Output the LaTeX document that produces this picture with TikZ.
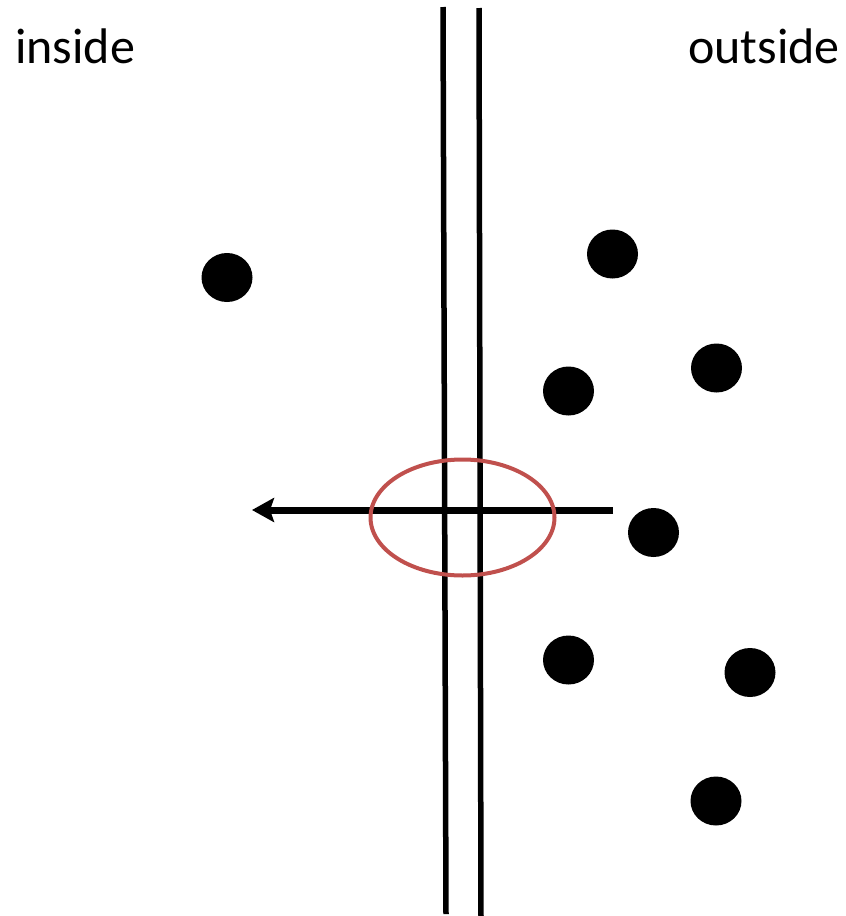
\documentclass[tikz,border=0pt]{standalone}
\usepackage{fontspec}
\setmainfont{Carlito}
\usetikzlibrary{arrows.meta}
\definecolor{ringred}{RGB}{192,80,77}
\tikzset{
  particle/.style={fill=black, draw=none},
  wall/.style={line width=5.5pt, black},
  label/.style={font=\fontsize{50pt}{60pt}\selectfont, inner sep=0pt},
  flow/.style={line width=7pt, -{Stealth[length=22pt,width=24pt,inset=4pt]}},
  channel/.style={draw=ringred, line width=4pt}
}
\begin{document}
\begin{tikzpicture}[x=1pt,y=-1pt]
\useasboundingbox (0,0) rectangle (846,916);
% labels
\node[label, anchor=base west] (inside) at (15,63) {inside};
\node[label, anchor=base east] (outside) at (840,63) {outside};
% membrane walls
\coordinate (w1t) at (443,7);
\coordinate (w1b) at (446,914);
\coordinate (w2t) at (479,8);
\coordinate (w2b) at (481,918);
\draw[wall] (w1t) -- (w1b);
\draw[wall] (w2t) -- (w2b);
% particles
\fill[particle] (227,277.5) ellipse [x radius=25.5, y radius=24.5];
\fill[particle] (612.5,254) ellipse [x radius=25.5, y radius=24.5];
\fill[particle] (568.5,391) ellipse [x radius=25.5, y radius=24.5];
\fill[particle] (716.5,368) ellipse [x radius=25.5, y radius=24.5];
\fill[particle] (653.5,532.5) ellipse [x radius=25.5, y radius=24.5];
\fill[particle] (568.5,660) ellipse [x radius=25.5, y radius=24.5];
\fill[particle] (750,672.5) ellipse [x radius=25.5, y radius=24.5];
\fill[particle] (716,801) ellipse [x radius=25.5, y radius=24.5];
% arrow through channel
\coordinate (start) at (613,510);
\coordinate (end) at (252,510);
\draw[flow] (start) -- (end);
% channel ring
\draw[channel] (462.5,517.5) ellipse [x radius=92, y radius=58];
\end{tikzpicture}
\end{document}
